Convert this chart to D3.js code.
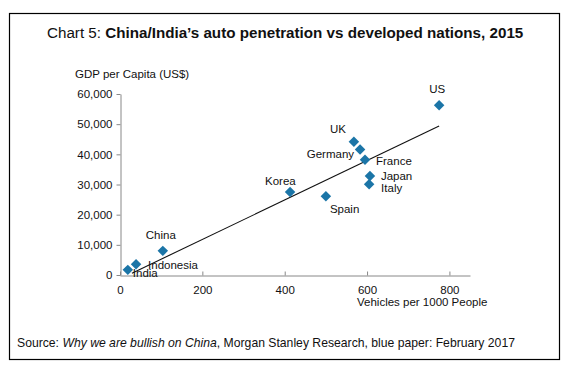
<!DOCTYPE html>
<meta charset="utf-8">
<script src="https://d3js.org/d3.v7.min.js"></script>
<style>
  body { margin: 0; background: #fff; }
  text { font-family: "Liberation Sans", Arial, sans-serif; fill: #111; }
</style>
<div id="chart"></div>
<script>
// data
var countries = ["US", "UK", "Germany", "France", "Japan", "Italy", "Spain", "Korea", "China", "Indonesia", "India"];
var vehicles  = [775, 568, 583, 595, 607, 605, 500, 413, 104, 39, 19];
var gdp       = [56300, 44200, 41600, 38200, 32800, 30100, 26100, 27500, 8000, 3600, 1700];
var trendX = [29, 775];
var trendY = [600, 49400];
var xTicks = [0, 200, 400, 600, 800];
var yTicks = [0, 10000, 20000, 30000, 40000, 50000, 60000];

// label placement (dx, dy, anchor) relative to each marker
var labelPos = {
  "US": [-2, -16, "middle"], "UK": [-16, -13, "middle"], "Germany": [-6, 4, "end"],
  "France": [11, 1, "start"], "Japan": [11, 0, "start"], "Italy": [12, 4, "start"],
  "Spain": [4, 13, "start"], "Korea": [-25, -11, "start"], "China": [-17, -16, "start"],
  "Indonesia": [12, 1, "start"], "India": [5, 3, "start"]
};

var W = 571, H = 373;
var svg = d3.select("#chart").append("svg").attr("width", W).attr("height", H);

// frame
svg.append("rect").attr("x", 9.5).attr("y", 13.5).attr("width", 550).attr("height", 346)
  .attr("fill", "none").attr("stroke", "#000").attr("stroke-width", 1.2);

// title
var title = svg.append("text").attr("x", 47).attr("y", 38).style("font-size", "15.2px");
title.append("tspan").text("Chart 5: ");
title.append("tspan").style("font-weight", "bold").text("China/India\u2019s auto penetration vs developed nations, 2015");

var x = d3.scaleLinear().domain([0, 850]).range([120, 470]);
var y = d3.scaleLinear().domain([0, 60000]).range([275, 94]);

// axes
var xAxis = svg.append("g").attr("transform", "translate(0,275.5)")
  .call(d3.axisBottom(x).tickValues(xTicks).tickSizeInner(-4).tickSizeOuter(0).tickPadding(10));
var yAxis = svg.append("g").attr("transform", "translate(120.5,0)")
  .call(d3.axisLeft(y).tickValues(yTicks).tickSizeInner(4).tickSizeOuter(0).tickPadding(4).tickFormat(d3.format(",")));
[xAxis, yAxis].forEach(function (g) {
  g.select(".domain").attr("stroke", "#888");
  g.selectAll(".tick line").attr("stroke", "#888");
  g.selectAll(".tick text").style("font-size", "11.5px").style("font-family", "Liberation Sans, Arial, sans-serif").attr("fill", "#111");
});

svg.append("text").attr("x", 75).attr("y", 78).style("font-size", "11.5px").text("GDP per Capita (US$)");
svg.append("text").attr("x", 357).attr("y", 306).style("font-size", "11.5px").text("Vehicles per 1000 People");

// trend line
svg.append("line")
  .attr("x1", x(trendX[0])).attr("y1", y(trendY[0]))
  .attr("x2", x(trendX[1])).attr("y2", y(trendY[1]))
  .attr("stroke", "#111").attr("stroke-width", 1.1);

// diamonds
var pts = countries.map(function (c, i) { return { name: c, vx: vehicles[i], g: gdp[i] }; });
svg.selectAll("path.pt").data(pts).enter().append("path")
  .attr("class", "pt")
  .attr("d", d3.symbol().type(d3.symbolDiamond2).size(70))
  .attr("transform", function (d) { return "translate(" + x(d.vx) + "," + y(d.g) + ")"; })
  .attr("fill", "#1b75a7");

svg.selectAll("text.lbl").data(pts).enter().append("text")
  .attr("class", "lbl")
  .attr("x", function (d) { return x(d.vx) + labelPos[d.name][0]; })
  .attr("y", function (d) { return y(d.g) + labelPos[d.name][1]; })
  .attr("text-anchor", function (d) { return labelPos[d.name][2]; })
  .attr("dominant-baseline", "central")
  .style("font-size", "11.5px")
  .text(function (d) { return d.name; });

// source
var src = svg.append("text").attr("x", 17).attr("y", 347).style("font-size", "12.2px");
src.append("tspan").text("Source: ");
src.append("tspan").style("font-style", "italic").text("Why we are bullish on China");
src.append("tspan").text(", Morgan Stanley Research, blue paper: February 2017");
</script>
